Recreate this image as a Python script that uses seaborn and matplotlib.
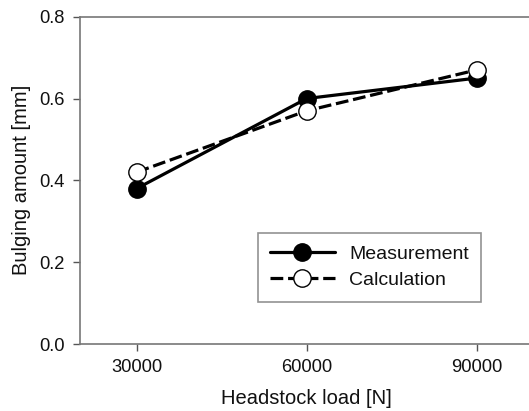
import matplotlib
matplotlib.use("Agg")
import matplotlib.pyplot as plt
import seaborn as sns
import pandas as pd

loads = [30000, 60000, 90000]
measurement = [0.38, 0.60, 0.65]
calculation = [0.42, 0.57, 0.67]

sns.set_theme(style="white")
plt.rcParams['font.family'] = ['Liberation Sans', 'DejaVu Sans']
plt.rcParams['text.color'] = '#111111'
plt.rcParams['axes.labelcolor'] = '#111111'
plt.rcParams['xtick.color'] = '#111111'
plt.rcParams['ytick.color'] = '#111111'

fig = plt.figure(figsize=(5.29, 4.11), dpi=100)
W, H = 529, 411
ax = fig.add_axes([80 / W, 1 - 344 / H, (533.4 - 80) / W, (344 - 16.7) / H])

df_m = pd.DataFrame({"load": loads, "val": measurement})
df_c = pd.DataFrame({"load": loads, "val": calculation})

sns.lineplot(data=df_m, x="load", y="val", ax=ax, color="black", lw=2.3,
             marker="o", markersize=12.5, markerfacecolor="black",
             markeredgecolor="black", markeredgewidth=1, label="Measurement", zorder=3)
sns.lineplot(data=df_c, x="load", y="val", ax=ax, color="black", lw=2.3,
             linestyle=(0, (4, 1.5)), marker="o", markersize=12.5,
             markerfacecolor="white", markeredgecolor="black",
             markeredgewidth=1, label="Calculation", zorder=4)

ax.set_xlim(20000, 100000)
ax.set_ylim(0, 0.8)
ax.set_xticks(loads)
ax.set_xticklabels([str(v) for v in loads])
ax.set_yticks([0.0, 0.2, 0.4, 0.6, 0.8])
ax.set_yticklabels(["0.0", "0.2", "0.4", "0.6", "0.8"])
ax.set_xlabel("Headstock load [N]", fontsize=14.5, labelpad=9)
ax.set_ylabel("Bulging amount [mm]", fontsize=14.5, labelpad=6)
ax.tick_params(axis="both", labelsize=13.2, direction="out", length=5,
               color="#555555", width=1, bottom=True, left=True, pad=6)
for s in ["left", "bottom", "top"]:
    ax.spines[s].set_color("#777777")
    ax.spines[s].set_linewidth(1.2)
ax.spines["right"].set_visible(False)

leg = ax.legend(loc="upper left", bbox_to_anchor=((257.7 - 80) / (533.4 - 80), 1 - (233 - 16.7) / (344 - 16.7)),
                fontsize=14, frameon=True, fancybox=False, handlelength=3.3,
                borderpad=0.65, labelspacing=0.42, handletextpad=0.75, borderaxespad=0)
leg.get_frame().set_edgecolor("#777777")
leg.get_frame().set_linewidth(1.2)

fig.savefig("out.png", dpi=100)
